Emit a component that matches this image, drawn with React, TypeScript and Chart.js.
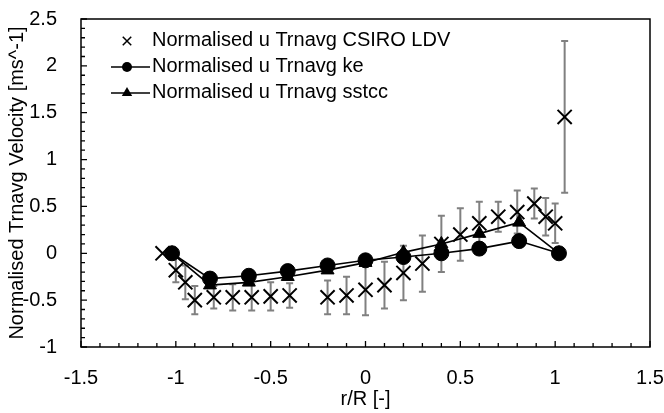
import { useEffect, useRef } from "react";
import { Chart, registerables } from "chart.js";

Chart.register(...registerables);

// ---------- data ----------
const csiroLabel = "Normalised u Trnavg CSIRO LDV";
const keLabel = "Normalised u Trnavg ke";
const sstccLabel = "Normalised u Trnavg sstcc";

const csiroX = [-1.07, -1.0, -0.95, -0.9, -0.8, -0.7, -0.6, -0.5, -0.4, -0.2, -0.1, 0, 0.1, 0.2, 0.3, 0.4, 0.5, 0.6, 0.7, 0.8, 0.89, 0.95, 1.0, 1.05];
const csiroY = [0, -0.18, -0.31, -0.5, -0.47, -0.47, -0.47, -0.46, -0.45, -0.47, -0.45, -0.39, -0.34, -0.21, -0.11, 0.1, 0.2, 0.32, 0.39, 0.44, 0.53, 0.39, 0.32, 1.455];
const csiroErr = [0, 0.13, 0.18, 0.15, 0.12, 0.14, 0.14, 0.15, 0.13, 0.18, 0.2, 0.27, 0.25, 0.29, 0.3, 0.3, 0.28, 0.23, 0.16, 0.23, 0.16, 0.2, 0.21, 0.81];

const keX = [-1.02, -0.82, -0.615, -0.41, -0.2, 0, 0.2, 0.4, 0.6, 0.81, 1.02];
const keY = [0, -0.27, -0.24, -0.19, -0.13, -0.075, -0.04, 0.0, 0.05, 0.13, 0.0];

const sstccX = [-1.02, -0.82, -0.615, -0.41, -0.2, 0, 0.2, 0.4, 0.6, 0.81, 1.02];
const sstccY = [0, -0.34, -0.31, -0.25, -0.18, -0.1, 0.01, 0.1, 0.21, 0.33, 0.0];

const xTicks = [-1.5, -1, -0.5, 0, 0.5, 1, 1.5];
const yTicks = [-1, -0.5, 0, 0.5, 1, 1.5, 2, 2.5];
const xTitle = "r/R [-]";
const yTitle = "Normalised Trnavg Velocity [ms^-1]";

const FONT = "'Liberation Sans', Arial, sans-serif";
const FS = 20;

const errorBarPlugin = {
  id: "errorBars",
  beforeDatasetsDraw(chart: any) {
    const xs = chart.scales.x;
    const ys = chart.scales.y;
    const ctx = chart.ctx;
    ctx.save();
    ctx.strokeStyle = "#808080";
    ctx.lineWidth = 2;
    for (let i = 0; i < csiroX.length; i++) {
      const e = csiroErr[i];
      if (!e) continue;
      const px = xs.getPixelForValue(csiroX[i]);
      const top = ys.getPixelForValue(csiroY[i] + e);
      const bot = ys.getPixelForValue(csiroY[i] - e);
      ctx.beginPath();
      ctx.moveTo(px, top);
      ctx.lineTo(px, bot);
      ctx.moveTo(px - 3.5, top);
      ctx.lineTo(px + 3.5, top);
      ctx.moveTo(px - 3.5, bot);
      ctx.lineTo(px + 3.5, bot);
      ctx.stroke();
    }
    ctx.restore();
  },
};

function drawMarker(ctx: CanvasRenderingContext2D, style: string, r: number, x: number, y: number) {
  ctx.beginPath();
  if (style === "circle") {
    ctx.arc(x, y, r, 0, Math.PI * 2);
    ctx.fill();
  } else if (style === "triangle") {
    const a = (2 * Math.PI) / 3;
    ctx.moveTo(x, y - r);
    ctx.lineTo(x + r * Math.sin(a), y - r * Math.cos(a));
    ctx.lineTo(x - r * Math.sin(a), y - r * Math.cos(a));
    ctx.closePath();
    ctx.fill();
  } else {
    const o = r * Math.cos(Math.PI / 4);
    ctx.moveTo(x - o, y - o);
    ctx.lineTo(x + o, y + o);
    ctx.moveTo(x + o, y - o);
    ctx.lineTo(x - o, y + o);
    ctx.stroke();
  }
}

const framePlugin = {
  id: "frame",
  afterDatasetsDraw(chart: any) {
    const { left, right, top, bottom } = chart.chartArea;
    const xs = chart.scales.x;
    const ys = chart.scales.y;
    const ctx = chart.ctx;
    ctx.save();
    ctx.strokeStyle = "#000";
    ctx.lineWidth = 1.5;
    ctx.strokeRect(left, top, right - left, bottom - top);
    ctx.lineWidth = 1.3;
    ctx.beginPath();
    for (let k = -15; k <= 15; k++) {
      const px = xs.getPixelForValue(k / 10);
      const len = k % 5 === 0 ? 6 : 4;
      ctx.moveTo(px, bottom);
      ctx.lineTo(px, bottom - len);
    }
    for (let k = -10; k <= 25; k++) {
      const py = ys.getPixelForValue(k / 10);
      const len = k % 5 === 0 ? 6 : 4;
      ctx.moveTo(left, py);
      ctx.lineTo(left + len, py);
    }
    ctx.stroke();
    ctx.restore();
  },
  afterDraw(chart: any) {
    const ctx = chart.ctx;
    ctx.save();
    ctx.fillStyle = "#000";
    ctx.strokeStyle = "#000";
    ctx.font = `${FS}px ${FONT}`;
    ctx.textBaseline = "middle";
    ctx.textAlign = "left";
    const textX = 152;
    const rows = [
      { label: chart.data.datasets[0].label, y: 41, style: "crossRot", r: 6, line: false },
      { label: chart.data.datasets[1].label, y: 67, style: "circle", r: 5, line: true },
      { label: chart.data.datasets[2].label, y: 93, style: "triangle", r: 6, line: true },
    ];
    for (const row of rows) {
      if (row.line) {
        ctx.lineWidth = 1.5;
        ctx.beginPath();
        ctx.moveTo(111, row.y);
        ctx.lineTo(150, row.y);
        ctx.stroke();
      }
      ctx.lineWidth = 1.5;
      drawMarker(ctx, row.style, row.r, 127, row.y);
      ctx.fillText(row.label, textX, row.y - 1);
    }
    ctx.restore();
  },
};

export default function App() {
  const ref = useRef<HTMLCanvasElement | null>(null);
  useEffect(() => {
    if (!ref.current) return;
    const chart = new Chart(ref.current, {
      type: "scatter",
      data: {
        datasets: [
          {
            label: csiroLabel,
            data: csiroX.map((x, i) => ({ x, y: csiroY[i] })),
            showLine: false,
            pointStyle: "crossRot",
            pointRadius: 10,
            pointBorderColor: "#000",
            pointBackgroundColor: "#000",
            pointBorderWidth: 2,
            borderColor: "#000",
            order: 2,
          },
          {
            label: keLabel,
            data: keX.map((x, i) => ({ x, y: keY[i] })),
            showLine: true,
            borderColor: "#000",
            borderWidth: 1.6,
            pointStyle: "circle",
            pointRadius: 7.5,
            pointBackgroundColor: "#000",
            pointBorderColor: "#000",
            pointBorderWidth: 1,
            order: 0,
          },
          {
            label: sstccLabel,
            data: sstccX.map((x, i) => ({ x, y: sstccY[i] })),
            showLine: true,
            borderColor: "#000",
            borderWidth: 1.6,
            pointStyle: "triangle",
            pointRadius: 7.5,
            pointBackgroundColor: "#000",
            pointBorderColor: "#000",
            pointBorderWidth: 1,
            order: 1,
          },
        ],
      },
      options: {
        animation: false,
        responsive: false,
        maintainAspectRatio: false,
        layout: { padding: { left: 0, right: 14, top: 19, bottom: 0 } },
        plugins: { legend: { display: false }, tooltip: { enabled: false } },
        scales: {
          x: {
            type: "linear",
            min: -1.5,
            max: 1.5,
            grid: { display: false },
            border: { display: false },
            afterBuildTicks: (s: any) => {
              s.ticks = xTicks.map((v) => ({ value: v }));
            },
            afterFit: (s: any) => {
              s.height = 66;
              s.paddingLeft = 0;
              s.paddingRight = 0;
            },
            ticks: {
              color: "#000",
              padding: 11,
              maxRotation: 0,
              font: { family: FONT, size: FS },
              callback: (v: any) => String(v),
            },
            title: {
              display: true,
              text: xTitle,
              color: "#000",
              font: { family: FONT, size: FS },
              padding: { top: 0, bottom: 2 },
            },
          },
          y: {
            type: "linear",
            min: -1,
            max: 2.5,
            grid: { display: false },
            border: { display: false },
            afterBuildTicks: (s: any) => {
              s.ticks = yTicks.map((v) => ({ value: v }));
            },
            afterFit: (s: any) => {
              s.width = 81;
              s.paddingTop = 0;
              s.paddingBottom = 0;
            },
            ticks: {
              color: "#000",
              padding: 16,
              font: { family: FONT, size: FS },
              callback: (v: any) => String(v),
            },
            title: {
              display: true,
              text: yTitle,
              color: "#000",
              font: { family: FONT, size: FS },
              padding: { top: 5, bottom: 0 },
            },
          },
        },
      },
      plugins: [errorBarPlugin, framePlugin],
    });
    return () => chart.destroy();
  }, []);
  return (
    <div style={{ position: "fixed", left: 0, top: 0, width: 664, height: 413, background: "#fff" }}>
      <canvas ref={ref} width={664} height={413} style={{ width: 664, height: 413 }} />
    </div>
  );
}
